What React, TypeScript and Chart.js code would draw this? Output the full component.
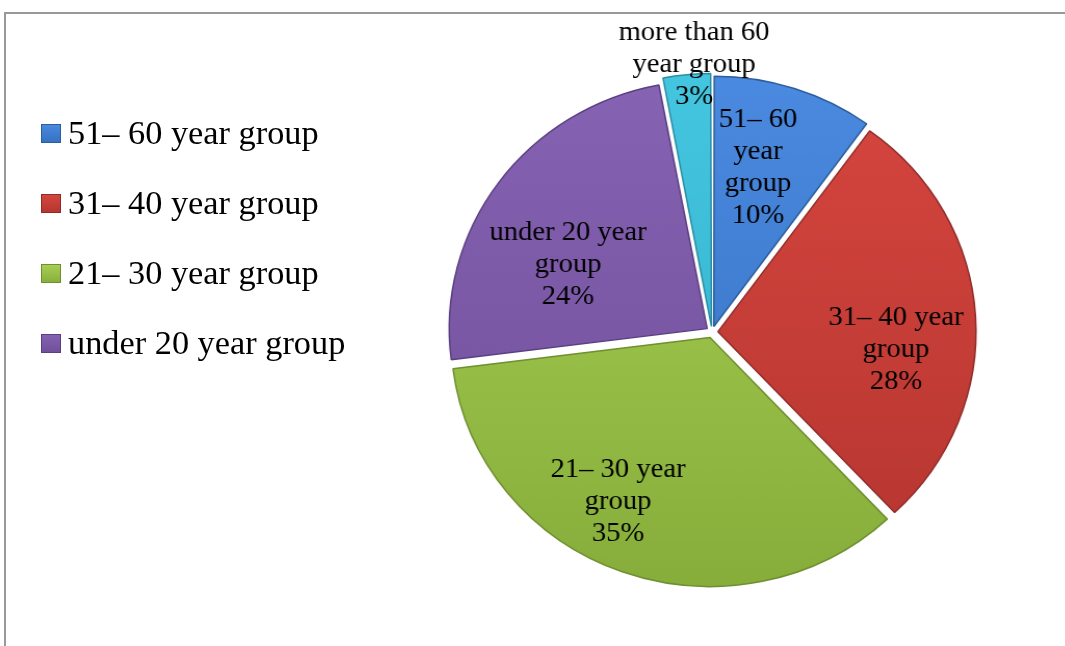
import React, { useEffect, useRef } from "react";
import { Chart, registerables } from "chart.js";

Chart.register(...registerables);

const categories = [
  "51– 60 year group",
  "31– 40 year group",
  "21– 30 year group",
  "under 20 year group",
  "more than 60 year group",
];
const values = [10, 28, 35, 24, 3];
const sliceLabelLines = [
  ["51– 60", "year", "group"],
  ["31– 40 year", "group"],
  ["21– 30 year", "group"],
  ["under 20 year", "group"],
  ["more than 60", "year group"],
];
const legendCount = 4;
const fillColors = ["#3e7fd0", "#c9403c", "#97bf47", "#7c5ba8", "#3bbdd8"];
const lightColors = ["#4a8ae0", "#d6463f", "#a9d154", "#8763b3", "#45c6e0"];
const darkColors = ["#3670c0", "#b5352f", "#86ad3a", "#6e4e99", "#2fadc8"];
const edgeColors = ["#2d5e9c", "#8f2c2a", "#6f8f30", "#5a4080", "#2a8ea3"];

// label placement: angular shift (deg) from slice middle and radius ratio
const labelShift = [-2.9, 9.4, 8.2, -10.2, 1.7];
const labelRatio = [0.685, 0.717, 0.776, 0.62, 1.079];

const FONT = "'Liberation Serif', 'Times New Roman', serif";
const STRETCH = 1.04;
const CX = 712;

const sliceLabelPlugin = {
  id: "sliceLabels",
  afterDatasetsDraw(chart: any) {
    const meta = chart.getDatasetMeta(0);
    const ctx = chart.ctx;
    ctx.save();
    ctx.font = `27.5px ${FONT}`;
    ctx.fillStyle = "#000";
    ctx.textAlign = "center";
    ctx.textBaseline = "middle";
    meta.data.forEach((arc: any, i: number) => {
      const p = arc.getProps(["x", "y", "startAngle", "endAngle", "outerRadius"], true);
      const mid = (p.startAngle + p.endAngle) / 2 + (labelShift[i] * Math.PI) / 180;
      const d = p.outerRadius * labelRatio[i];
      const cx = p.x + Math.cos(mid) * d;
      const cy = p.y + Math.sin(mid) * d;
      const lines = [...sliceLabelLines[i], `${values[i]}%`];
      const lh = 32;
      lines.forEach((t, j) => {
        ctx.fillText(t, cx, cy + (j - (lines.length - 1) / 2) * lh);
      });
    });
    ctx.restore();
  },
};

export default function App() {
  const canvasRef = useRef<HTMLCanvasElement | null>(null);

  useEffect(() => {
    if (!canvasRef.current) return;
    const chart = new Chart(canvasRef.current, {
      type: "pie",
      data: {
        labels: categories,
        datasets: [
          {
            data: values,
            backgroundColor: (c: any) => {
              const area = c.chart.chartArea;
              if (!area) return fillColors[c.dataIndex];
              const g = c.chart.ctx.createLinearGradient(0, 78, 0, 588);
              g.addColorStop(0, lightColors[c.dataIndex]);
              g.addColorStop(1, darkColors[c.dataIndex]);
              return g;
            },
            borderColor: edgeColors,
            borderWidth: 1.5,
            offset: 23,
            radius: 248,
          } as any,
        ],
      },
      options: {
        animation: false,
        responsive: false,
        devicePixelRatio: 1,
        layout: { padding: { left: 2 * CX - 1065, right: 0, top: 18, bottom: 0 } },
        plugins: {
          legend: { display: false },
          tooltip: { enabled: false },
        },
      } as any,
      plugins: [sliceLabelPlugin],
    });
    return () => chart.destroy();
  }, []);

  return (
    <div style={{ position: "fixed", left: 0, top: 0, width: 1065, height: 646, background: "#fff", overflow: "hidden" }}>
      <div
        style={{
          position: "absolute",
          left: 4,
          top: 12,
          width: 1100,
          height: 700,
          borderLeft: "2px solid #999",
          borderTop: "2px solid #999",
        }}
      />
      <canvas
        ref={canvasRef}
        width={1065}
        height={646}
        style={{
          position: "absolute",
          left: 0,
          top: 0,
          transform: `scaleX(${STRETCH})`,
          transformOrigin: `${CX}px 0px`,
        }}
      />
      <div style={{ position: "absolute", left: 41, top: 98, fontFamily: FONT, fontSize: 33, color: "#000" }}>
        {categories.slice(0, legendCount).map((c, i) => (
          <div key={c} style={{ height: 70, display: "flex", alignItems: "center", whiteSpace: "nowrap" }}>
            <span
              style={{
                display: "inline-block",
                width: 20,
                height: 19,
                background: `linear-gradient(${lightColors[i]}, ${darkColors[i]})`,
                boxShadow: `inset 0 0 0 1px ${edgeColors[i]}`,
                marginRight: 7,
              }}
            />
            <span style={{ display: "inline-block", transform: `scaleX(${STRETCH})`, transformOrigin: "0 50%" }}>{c}</span>
          </div>
        ))}
      </div>
    </div>
  );
}
